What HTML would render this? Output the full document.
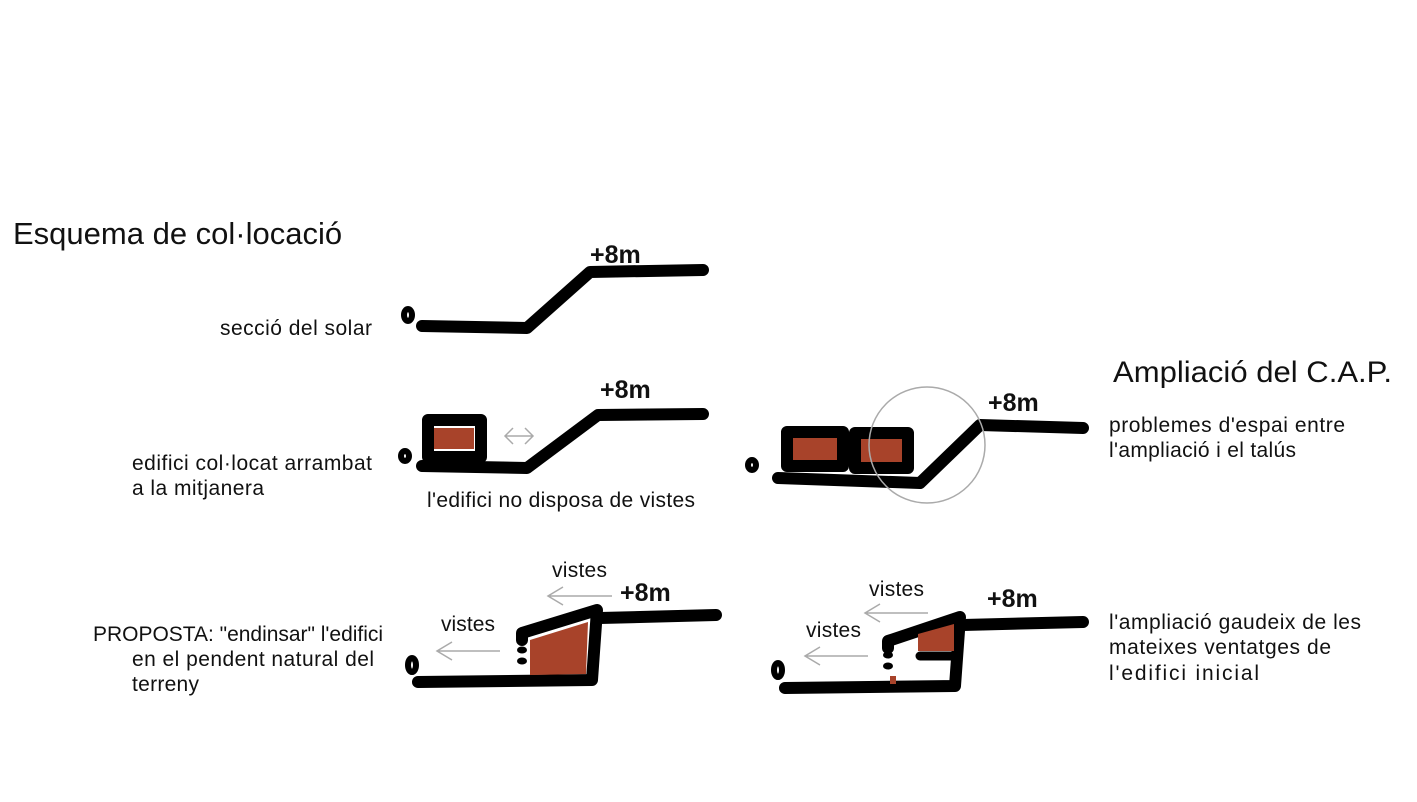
<!DOCTYPE html>
<html><head><meta charset="utf-8"><style>
html,body{margin:0;padding:0;background:#fff;}
svg{display:block}
text{font-family:"Liberation Sans",sans-serif;fill:#111}
</style></head><body>
<svg width="1417" height="802" viewBox="0 0 1417 802" xmlns="http://www.w3.org/2000/svg">
<g fill="none" stroke="#000" stroke-width="12" stroke-linecap="round" stroke-linejoin="round">
<polyline points="422,326 527,328 590,272 703,270"/>
<polyline points="422,466 527,468 598,415 703,414"/>
<rect x="428" y="420" width="53" height="37" stroke-width="12"/>
<polyline points="778,478 920,483 980,425 1083,428"/>
<rect x="787" y="432" width="56" height="34" stroke-width="12"/>
<rect x="855" y="433" width="53" height="35" stroke-width="12"/>
<polyline points="418,682 592,680 597,610 522,633 522,640"/>
<polyline points="600,618 716,615"/>
<polyline points="785,688 955,686 960,617 888,641 888,648"/>
<polyline points="963,625 1083,622"/>
<polyline points="920,656 955,656" stroke-width="9"/>
</g>
<g fill="#a8432a">
<rect x="434" y="428" width="40" height="21"/>
<rect x="793" y="438" width="44" height="22"/>
<rect x="861" y="439" width="41" height="23"/>
<polygon points="530,640 588,622 586,674 530,675"/>
<polygon points="918,634 954,624 954,651 918,651"/>
<rect x="890" y="676" width="6" height="8"/>
</g>
<g fill="#000">
<ellipse cx="522" cy="650" rx="5" ry="3.5"/><ellipse cx="522" cy="661" rx="5" ry="3.5"/>
<ellipse cx="888" cy="655" rx="5" ry="3.5"/><ellipse cx="888" cy="666" rx="5" ry="3.5"/>
<g fill="none" stroke="#000" stroke-width="6">
<ellipse cx="408" cy="315" rx="4" ry="6"/>
<ellipse cx="405" cy="456" rx="4" ry="5"/>
<ellipse cx="752" cy="465" rx="4" ry="5"/>
<ellipse cx="412" cy="665" rx="4" ry="7"/>
<ellipse cx="778" cy="670" rx="4" ry="7"/>
</g>
</g>
<g fill="none" stroke="#aaa" stroke-width="1.5">
<circle cx="927" cy="445" r="58"/>
<path d="M505,436 H533 M513,428 L505,436 L513,444 M525,428 L533,436 L525,444"/>
<path d="M437,651 H500 M452,642 L437,651 L452,660"/>
<path d="M548,596 H612 M563,587 L548,596 L563,605"/>
<path d="M805,656 H868 M820,647 L805,656 L820,665"/>
<path d="M865,613 H928 M880,604 L865,613 L880,622"/>
</g>
<g font-size="25" font-weight="bold">
<text x="590" y="263">+8m</text>
<text x="600" y="398">+8m</text>
<text x="988" y="411">+8m</text>
<text x="620" y="601">+8m</text>
<text x="987" y="607">+8m</text>
</g>
<text x="13" y="244" font-size="31">Esquema de col·locació</text>
<text x="1113" y="382" font-size="30" textLength="279" lengthAdjust="spacingAndGlyphs">Ampliació del C.A.P.</text>
<g font-size="21">
<text x="220" y="335" textLength="152">secció del solar</text>
<text x="132" y="470" textLength="240">edifici col·locat arrambat</text>
<text x="132" y="495" textLength="132">a la mitjanera</text>
<text x="427" y="507" textLength="268">l'edifici no disposa de vistes</text>
<text x="1109" y="432" textLength="236">problemes d'espai entre</text>
<text x="1109" y="457" textLength="187">l'ampliació i el talús</text>
<text x="93" y="641" textLength="290">PROPOSTA: "endinsar" l'edifici</text>
<text x="132" y="666" textLength="242">en el pendent natural del</text>
<text x="132" y="691" textLength="67">terreny</text>
<text x="441" y="631" textLength="54">vistes</text>
<text x="552" y="577" textLength="55">vistes</text>
<text x="806" y="637" textLength="55">vistes</text>
<text x="869" y="596" textLength="55">vistes</text>
<text x="1109" y="629" textLength="252">l'ampliació gaudeix de les</text>
<text x="1109" y="654" textLength="222">mateixes ventatges de</text>
<text x="1109" y="680" textLength="150">l'edifici inicial</text>
</g>
</svg>
</body></html>
